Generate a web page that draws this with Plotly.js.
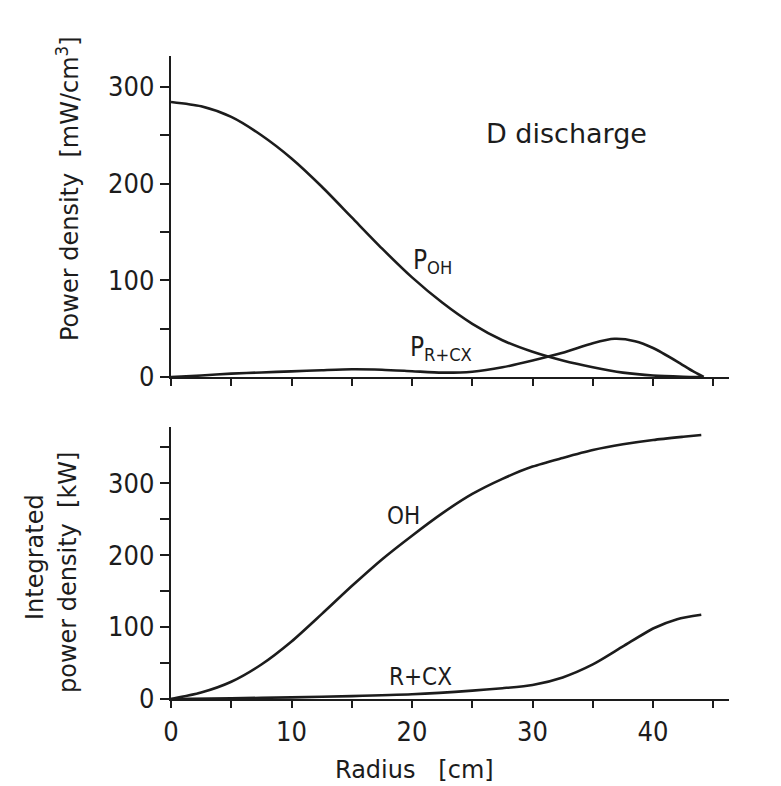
<!DOCTYPE html>
<html>
<head>
<meta charset="utf-8">
<script src="https://cdn.plot.ly/plotly-3.0.1.min.js"></script>
<style>html,body{margin:0;padding:0;background:#fff;}#chart{width:781px;height:786px;}</style>
</head>
<body>
<div id="chart"></div>
<script>
// Power density (top panel), mW/cm^3
const pohR   = [0, 2.5, 5, 7.5, 10, 12.5, 15, 17.5, 20, 22.5, 25, 27.5, 30, 32.5, 35, 37.5, 40, 42.5, 44];
const pohV   = [284.5, 280, 269, 250, 226, 197, 165, 133, 103, 77, 55, 38, 26, 17, 10, 4.5, 1.5, 0.3, 0];
const prcxR  = [0, 2.5, 5, 7.5, 10, 12.5, 15, 17.5, 20, 22.5, 25, 27.5, 30, 32.5, 35, 36.8, 38.5, 40, 42, 43.3, 44.2];
const prcxV  = [0, 1.5, 3.5, 4.7, 5.8, 7, 8, 7.5, 6, 4.5, 5.5, 10, 17, 25, 35, 39.5, 37, 30, 16, 6, 0];
// Integrated power density (bottom panel), kW
const ohR    = [0, 2.5, 5, 7.5, 10, 12.5, 15, 17.5, 20, 22.5, 25, 27.5, 30, 32.5, 35, 37.5, 40, 42.5, 44];
const ohV    = [0, 9, 24, 48, 80, 118, 157, 194, 227, 258, 285, 306, 323, 335, 346, 354, 360, 364.5, 367];
const rcxR   = [0, 5, 10, 15, 20, 25, 27.5, 30, 32.5, 35, 37.5, 40, 42, 44];
const rcxV   = [0, 1, 2.3, 4, 6.5, 11.6, 15, 19.5, 30, 48, 73, 98, 111, 117];
// ticks
const xTickVals = [0, 10, 20, 30, 40];
const xTickText = ['0', '10', '20', '30', '40'];
const yTickVals = [0, 100, 200, 300];
const yTickText = ['0', '100', '200', '300'];

const ink = '#1c1c1c';
const narrow = '"Liberation Sans Narrow", "DejaVu Sans Condensed", sans-serif';
const sans = '"DejaVu Sans", sans-serif';
const line = {color: ink, width: 2.6, shape: 'spline', smoothing: 0.7};

const traces = [
  {x: pohR, y: pohV, xaxis: 'x', yaxis: 'y', mode: 'lines', line: line, hoverinfo: 'skip'},
  {x: prcxR, y: prcxV, xaxis: 'x', yaxis: 'y', mode: 'lines', line: line, hoverinfo: 'skip'},
  {x: ohR, y: ohV, xaxis: 'x2', yaxis: 'y2', mode: 'lines', line: line, hoverinfo: 'skip'},
  {x: rcxR, y: rcxV, xaxis: 'x2', yaxis: 'y2', mode: 'lines', line: line, hoverinfo: 'skip'}
];

const axisCommon = {
  showgrid: false, zeroline: false, showline: true, linecolor: ink, linewidth: 2.2,
  ticks: 'outside', tickcolor: ink, tickwidth: 2, fixedrange: true,
  tickfont: {family: narrow, size: 27, color: ink}
};
const xMinor = {dtick: 5, ticks: 'outside', ticklen: 7, tickwidth: 2, tickcolor: ink, showgrid: false};
const yMinor = {dtick: 50, ticks: 'outside', ticklen: 9, tickwidth: 2, tickcolor: ink, showgrid: false};

const layout = {
  width: 781, height: 786,
  margin: {l: 171, r: 52, t: 56, b: 87},
  paper_bgcolor: '#fff', plot_bgcolor: '#fff',
  showlegend: false,
  xaxis: Object.assign({}, axisCommon, {domain: [0, 1], range: [0, 46.3], anchor: 'y',
    tickmode: 'array', tickvals: xTickVals, ticktext: xTickText, showticklabels: false, ticklen: 7, minor: xMinor}),
  yaxis: Object.assign({}, axisCommon, {domain: [0.5008, 1], range: [0, 332], anchor: 'x',
    tickmode: 'array', tickvals: yTickVals, ticktext: yTickText, ticklen: 9, minor: yMinor}),
  xaxis2: Object.assign({}, axisCommon, {domain: [0, 1], range: [0, 46.3], anchor: 'y2',
    tickmode: 'array', tickvals: xTickVals, ticktext: xTickText, ticklen: 7, minor: xMinor}),
  yaxis2: Object.assign({}, axisCommon, {domain: [0, 0.423], range: [0, 378], anchor: 'x2',
    tickmode: 'array', tickvals: yTickVals, ticktext: yTickText, ticklen: 9, minor: yMinor}),
  annotations: [
    {xref: 'paper', yref: 'paper', x: -0.1846, y: 0.7947, text: 'Power density&nbsp;&nbsp;[mW/cm<sup>3</sup>]',
     textangle: -90, showarrow: false, xanchor: 'center', yanchor: 'middle', font: {family: sans, size: 24, color: ink}},
    {xref: 'paper', yref: 'paper', x: -0.2437, y: 0.2208, text: 'Integrated',
     textangle: -90, showarrow: false, xanchor: 'center', yanchor: 'middle', font: {family: sans, size: 24, color: ink}},
    {xref: 'paper', yref: 'paper', x: -0.1846, y: 0.1975, text: 'power density&nbsp;&nbsp;[kW]',
     textangle: -90, showarrow: false, xanchor: 'center', yanchor: 'middle', font: {family: sans, size: 24, color: ink}},
    {xref: 'paper', yref: 'paper', x: 0.437, y: -0.1104, text: 'Radius&nbsp;&nbsp;&nbsp;[cm]', showarrow: false,
     xanchor: 'center', yanchor: 'middle', font: {family: sans, size: 24, color: ink}},
    {xref: 'x', yref: 'y', x: 32.8, y: 251.5, text: 'D discharge', showarrow: false,
     xanchor: 'center', yanchor: 'middle', font: {family: sans, size: 27, color: ink}},
    {xref: 'x', yref: 'y', x: 19.9, y: 119, text: 'P<sub>OH</sub>', showarrow: false,
     xanchor: 'left', yanchor: 'middle', font: {family: narrow, size: 26, color: ink}},
    {xref: 'x', yref: 'y', x: 19.7, y: 29, text: 'P<sub>R+CX</sub>', showarrow: false,
     xanchor: 'left', yanchor: 'middle', font: {family: narrow, size: 26, color: ink}},
    {xref: 'x2', yref: 'y2', x: 19.3, y: 254, text: 'OH', showarrow: false,
     xanchor: 'center', yanchor: 'middle', font: {family: narrow, size: 24, color: ink}},
    {xref: 'x2', yref: 'y2', x: 20.7, y: 31, text: 'R+CX', showarrow: false,
     xanchor: 'center', yanchor: 'middle', font: {family: narrow, size: 24, color: ink}}
  ]
};

Plotly.newPlot('chart', traces, layout, {staticPlot: true, displayModeBar: false});
</script>
</body>
</html>
